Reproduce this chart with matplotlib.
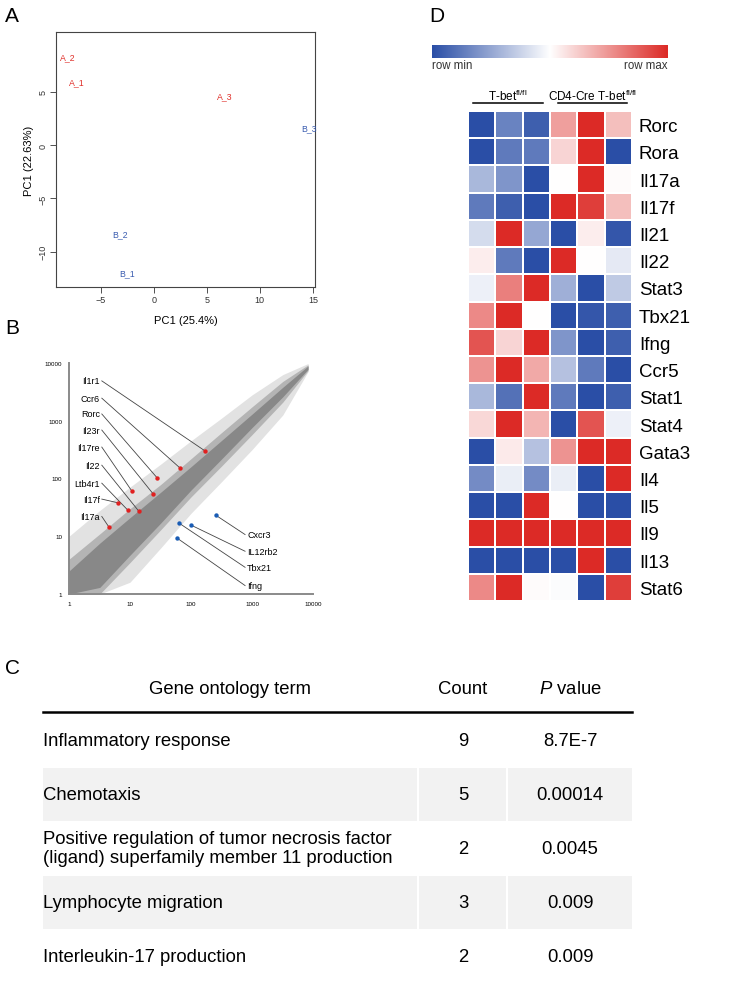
import numpy as np
import matplotlib
matplotlib.use("Agg")
import matplotlib.pyplot as plt
from matplotlib.colors import LinearSegmentedColormap
from matplotlib.patches import Rectangle

plt.rcParams['font.family'] = ['Liberation Sans', 'DejaVu Sans']
plt.rcParams['mathtext.fontset'] = 'custom'
plt.rcParams['mathtext.rm'] = 'Liberation Sans'
plt.rcParams['mathtext.it'] = 'Liberation Sans:italic'

# ---- A: PCA
pca_names = ['A_1', 'A_2', 'A_3', 'B_1', 'B_2', 'B_3']
pca_x = [-7.2, -8.1, 6.7, -2.5, -3.2, 14.6]
pca_y = [5.9, 8.3, 4.6, -12.0, -8.3, 1.6]
pca_group = ['A', 'A', 'A', 'B', 'B', 'B']

cloud_x = [1, 3.2, 10, 32, 100, 320, 1000, 3200, 8300]
core_lo = [1, 1.3, 4.7, 17, 63, 220, 760, 2600, 7800]
core_hi = [2.5, 7.6, 21, 58, 160, 460, 1300, 3800, 8900]
mid_lo = [1, 1, 3.5, 13, 48, 166, 575, 2100, 7400]
mid_hi = [4, 11, 30, 79, 220, 630, 1740, 4800, 9300]
outer_lo = [1, 1, 1.6, 6.3, 25, 89, 316, 1260, 7100]
outer_hi = [10, 28, 71, 178, 450, 1120, 2800, 6300, 9800]

up_genes = ['Il1r1', 'Ccr6', 'Rorc', 'Il23r', 'Il17re', 'Il22', 'Ltb4r1', 'Il17f', 'Il17a']
up_x = [170, 66, 28, 24, 10.8, 14, 9.3, 6.3, 4.5]
up_y = [300, 152, 102, 54, 60, 27, 28, 38, 14.5]
up_label_y = [4900, 2460, 1310, 690, 350, 170, 83, 44, 22]

dn_genes = ['Cxcr3', 'IL12rb2', 'Tbx21', 'Ifng']
dn_x = [257, 100, 63, 59]
dn_y = [23, 15.6, 17, 9.3]
dn_label_y = [10.7, 5.5, 2.9, 1.4]

# ---- C: GO table
go_terms = ['Inflammatory response', 'Chemotaxis',
            'Positive regulation of tumor necrosis factor\n(ligand) superfamily member 11 production',
            'Lymphocyte migration', 'Interleukin-17 production']
go_count = [9, 5, 2, 3, 2]
go_pvalue = ['8.7E-7', '0.00014', '0.0045', '0.009', '0.009']

# ---- D: heatmap (row-scaled, -1 = row min, 1 = row max)
heat_genes = ['Rorc', 'Rora', 'Il17a', 'Il17f', 'Il21', 'Il22', 'Stat3', 'Tbx21', 'Ifng',
              'Ccr5', 'Stat1', 'Stat4', 'Gata3', 'Il4', 'Il5', 'Il9', 'Il13', 'Stat6']
heat_vals = [
    [-1.0, -0.7, -0.9, 0.45, 1.0, 0.3],
    [-1.0, -0.75, -0.75, 0.2, 1.0, -1.0],
    [-0.4, -0.6, -1.0, 0.0, 1.0, 0.02],
    [-0.75, -0.9, -1.0, 1.0, 0.9, 0.3],
    [-0.2, 1.0, -0.5, -1.0, 0.08, -0.95],
    [0.08, -0.75, -1.0, 1.0, 0.0, -0.12],
    [-0.08, 0.6, 1.0, -0.45, -1.0, -0.3],
    [0.55, 1.0, 0.0, -1.0, -0.95, -0.9],
    [0.8, 0.2, 1.0, -0.6, -1.0, -0.9],
    [0.5, 1.0, 0.4, -0.35, -0.75, -1.0],
    [-0.4, -0.8, 1.0, -0.75, -1.0, -0.9],
    [0.18, 1.0, 0.35, -1.0, 0.8, -0.08],
    [-1.0, 0.1, -0.35, 0.5, 1.0, 1.0],
    [-0.65, -0.1, -0.65, -0.1, -1.0, 1.0],
    [-1.0, -1.0, 1.0, 0.0, -1.0, -1.0],
    [1.0, 1.0, 1.0, 1.0, 1.0, 1.0],
    [-1.0, -1.0, -1.0, -1.0, 1.0, -1.0],
    [0.55, 1.0, 0.02, -0.02, -1.0, 0.9],
]

W, H = 749, 987
fig = plt.figure(figsize=(W / 100, H / 100), dpi=100)


def px_axes(l, t, r, b):
    return fig.add_axes([l / W, 1 - b / H, (r - l) / W, (b - t) / H])


# overlay for free text / table, in pixel coords
ov = fig.add_axes([0, 0, 1, 1])
ov.set_xlim(0, W)
ov.set_ylim(H, 0)
ov.axis('off')

for lab, (x, y) in zip(['A', 'B', 'C', 'D'], [(12, 17), (12, 328), (12, 669), (437, 17)]):
    ov.text(x, y, lab, fontsize=15, ha='center', va='center')

# ---------------- A
axA = px_axes(56, 33, 315, 288)
red_txt, blue_txt = '#e0302a', '#3a5cb0'
for n, x, y, g in zip(pca_names, pca_x, pca_y, pca_group):
    axA.text(x, y, n, color=red_txt if g == 'A' else blue_txt, fontsize=6.3, ha='center', va='center')
axA.set_xlim(-9.2, 15.2)
axA.set_ylim(-13.3, 10.6)
axA.set_xticks([-5, 0, 5, 10, 15])
axA.set_yticks([-10, -5, 0, 5])
axA.tick_params(direction='out', length=4, width=0.6, labelsize=6.5, colors='#333333', pad=2)
plt.setp(axA.get_yticklabels(), rotation=90, va='center')
for s in axA.spines.values():
    s.set_linewidth(0.8)
    s.set_color('#444444')
axA.set_xlabel('PC1 (25.4%)', fontsize=8, labelpad=8)
axA.set_ylabel('PC1 (22.63%)', fontsize=8, labelpad=3)

# ---------------- B
axB = px_axes(69, 364, 313, 595)
axB.set_xscale('log')
axB.set_yscale('log')
axB.fill_between(cloud_x, outer_lo, outer_hi, color='#e2e2e2', lw=0)
axB.fill_between(cloud_x, mid_lo, mid_hi, color='#b4b4b4', lw=0)
axB.fill_between(cloud_x, core_lo, core_hi, color='#888888', lw=0)
axB.set_xlim(1, 10000)
axB.set_ylim(1, 10000)
lab_x_end, line_x0 = 3.2, 3.45
for g, x, y, ly in zip(up_genes, up_x, up_y, up_label_y):
    axB.plot([line_x0, x], [ly, y], color='#444444', lw=0.6)
    axB.text(lab_x_end, ly, g, fontsize=6.5, ha='right', va='center')
axB.scatter(up_x, up_y, s=10, color='#e02020', zorder=5, lw=0)
lab_x_start, line_x1 = 830, 770
for g, x, y, ly in zip(dn_genes, dn_x, dn_y, dn_label_y):
    axB.plot([x, line_x1], [y, ly], color='#444444', lw=0.6)
    axB.text(lab_x_start, ly, g, fontsize=6.5, ha='left', va='center')
axB.scatter(dn_x, dn_y, s=10, color='#1a5cb4', zorder=5, lw=0)
ticks = [1, 10, 100, 1000, 10000]
axB.set_xticks(ticks)
axB.set_xticklabels([str(t) for t in ticks])
axB.set_yticks(ticks)
axB.set_yticklabels([str(t) for t in ticks])
axB.minorticks_off()
axB.tick_params(length=0, labelsize=4.5, pad=5)
for s in ['top', 'right']:
    axB.spines[s].set_visible(False)
for s in ['left', 'bottom']:
    axB.spines[s].set_color('#8a8a8a')
    axB.spines[s].set_linewidth(1.4)

# ---------------- C
fs_t = 13.3
col_x = [43, 463, 570]
ov.text(230, 690, 'Gene ontology term', fontsize=fs_t, ha='center', va='center')
ov.text(col_x[1], 690, 'Count', fontsize=fs_t, ha='center', va='center')
ov.text(col_x[2], 690, '$P$ value', fontsize=fs_t, ha='center', va='center')
ov.plot([43, 632], [713, 713], color='black', lw=1.8)
row_y0, row_h = 741, 54
for i, (t, c, p) in enumerate(zip(go_terms, go_count, go_pvalue)):
    cy = row_y0 + i * row_h
    if i % 2 == 1:
        for x0, x1 in [(43, 417), (419, 506), (508, 632)]:
            ov.add_patch(Rectangle((x0, cy - 26.5), x1 - x0, 53, color='#f2f2f2', lw=0, zorder=0))
    ov.text(col_x[0], cy, t, fontsize=fs_t, ha='left', va='center', linespacing=1.2)
    ov.text(col_x[1], cy, str(c), fontsize=fs_t, ha='center', va='center')
    ov.text(col_x[2], cy, p, fontsize=fs_t, ha='center', va='center')

# ---------------- D
cmap = LinearSegmentedColormap.from_list('rowscale', ['#2a4ea6', '#ffffff', '#dc2a26'])
cax = px_axes(432, 46, 668, 59)
cax.imshow(np.linspace(-1, 1, 256)[None, :], aspect='auto', cmap=cmap)
cax.axis('off')
ov.text(432, 66, 'row min', fontsize=8.3, ha='left', va='center', color='#333333')
ov.text(668, 66, 'row max', fontsize=8.3, ha='right', va='center', color='#333333')

ov.text(508, 96, r'T-bet$^{\mathrm{fl/fl}}$', fontsize=8.5, ha='center', va='center')
ov.text(593, 96, r'CD4-Cre T-bet$^{\mathrm{fl/fl}}$', fontsize=8.5, ha='center', va='center')
ov.plot([473, 543], [104, 104], color='black', lw=1.1)
ov.plot([558, 627], [104, 104], color='black', lw=1.1)

axD = px_axes(468, 112, 632, 602)
axD.pcolormesh(np.array(heat_vals), cmap=cmap, vmin=-1, vmax=1, edgecolors='white', linewidth=1.3)
axD.set_xlim(0, 6)
axD.set_ylim(len(heat_genes), 0)
axD.set_xticks([])
axD.yaxis.tick_right()
axD.set_yticks(np.arange(len(heat_genes)) + 0.5)
axD.set_yticklabels(heat_genes, fontsize=13.5)
axD.tick_params(axis='y', length=0, pad=5)
for s in axD.spines.values():
    s.set_visible(False)

fig.savefig('out.png', dpi=100)
